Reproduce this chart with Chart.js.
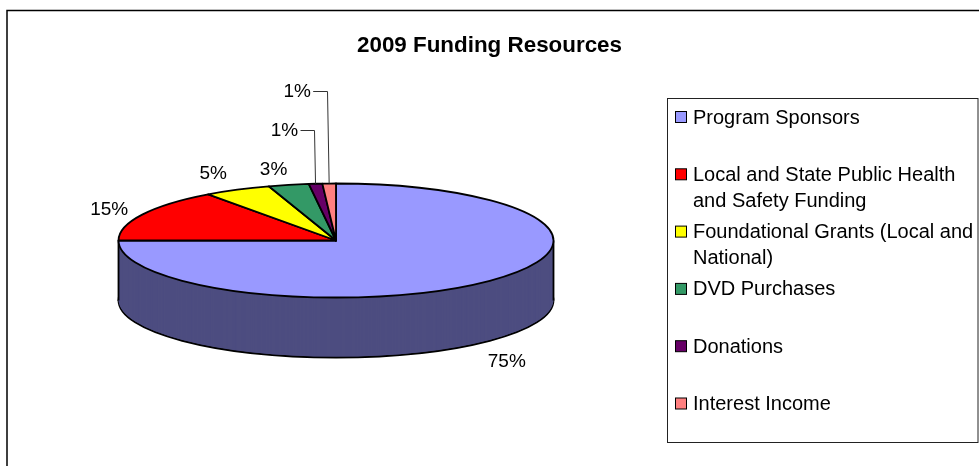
<!DOCTYPE html>
<html>
<head>
<meta charset="utf-8">
<style>
html,body{margin:0;padding:0;background:#fff;}
#wrap{position:relative;width:979px;height:466px;}
canvas{display:block;}
</style>
<script src="https://cdn.jsdelivr.net/npm/chart.js@4"></script>
</head>
<body>
<div id="wrap"><canvas id="c" width="979" height="466"></canvas></div>
<script>
const chartTitle = "2009 Funding Resources";
const categories = ["Program Sponsors","Local and State Public Health and Safety Funding","Foundational Grants (Local and National)","DVD Purchases","Donations","Interest Income"];
const legendLines = [["Program Sponsors"],["Local and State Public Health","and Safety Funding"],["Foundational Grants (Local and","National)"],["DVD Purchases"],["Donations"],["Interest Income"]];
const shares = [75,15,5,3,1,1];
const sliceColors = ["#9999FF","#FF0000","#FFFF00","#339966","#660066","#FF8080"];
const sideColors = ["#4D4D80","#800000","#808000","#1A4D33","#330033","#804040"];

const FONT = '"Liberation Sans", Arial, sans-serif';
const CX = 336, RADIUS = 217.5, SQUASH = 57/217.5, CY = 240.5, DEPTH = 60, PEN = 1.8;
// label offset from the slice's rim midpoint; elbow = leader bend for labels that have one
const labelPlace = [
  {dx:17,dy:20,side:true},{dx:-33,dy:-6},{dx:-24,dy:-17},{dx:-15,dy:-16},
  {dx:-31,dy:-54,elbow:-1.5},{dx:-32,dy:-93,elbow:-2}
];

const pie3d = {
  id:'pie3d',
  beforeDraw(chart){
    const c = chart.ctx;
    c.save();
    c.fillStyle='#fff'; c.fillRect(0,0,979,466);
    // outer frame
    c.strokeStyle='#000'; c.lineWidth=1.5;
    c.beginPath(); c.moveTo(7,466); c.lineTo(7,10.5); c.lineTo(979,10.5); c.stroke();
    // legend box
    c.strokeStyle='#222'; c.lineWidth=1;
    c.strokeRect(667.5,98.5,310.5,344);
    c.font='20px '+FONT; c.textBaseline='middle'; c.textAlign='left'; c.fillStyle='#000';
    legendLines.forEach((lines,i)=>{
      const y=117+57.3*i;
      c.fillStyle=sliceColors[i]; c.fillRect(675.5,y-5.5,11,11);
      c.strokeStyle='#000'; c.lineWidth=1; c.strokeRect(675.5,y-5.5,11,11);
      c.fillStyle='#000';
      lines.forEach((t,k)=>c.fillText(t,693,y+1+k*26));
    });
    c.restore();
  },
  beforeDatasetsDraw(chart){
    const c = chart.ctx, arcs = chart.getDatasetMeta(0).data;
    const ax = arcs[0].x, ay = arcs[0].y;
    c.save();
    // uniform pen width, whatever the squash
    const rawStroke = c.stroke;
    c.stroke = function(){ c.save(); c.setTransform(1,0,0,1,0,0); c.lineWidth=PEN; c.strokeStyle='#000'; c.lineJoin='round'; rawStroke.call(c); c.restore(); };
    const face = d => c.setTransform(1,0,0,SQUASH,CX-ax,CY+d-ay*SQUASH);
    for(let d=DEPTH;d>=1;d--){
      face(d);
      arcs.forEach((a,i)=>{
        const o=a.options;
        a.options=Object.assign(Object.create(o),{backgroundColor:sideColors[i],borderWidth:d===DEPTH?PEN:0,borderColor:'#000'});
        a.draw(c);
        a.options=o;
      });
    }
    c.setTransform(1,0,0,1,0,0);
    c.beginPath();
    c.moveTo(CX-RADIUS,CY); c.lineTo(CX-RADIUS,CY+DEPTH);
    c.moveTo(CX+RADIUS,CY); c.lineTo(CX+RADIUS,CY+DEPTH);
    c.stroke();
    face(0);
  },
  afterDatasetsDraw(chart){
    const c = chart.ctx;
    delete c.stroke;
    c.restore();
    const arcs = chart.getDatasetMeta(0).data;
    c.save();
    c.font='19px '+FONT; c.fillStyle='#000'; c.textAlign='center'; c.textBaseline='middle';
    arcs.forEach((a,i)=>{
      const mid=(a.startAngle+a.endAngle)/2, p=labelPlace[i];
      const rx=CX+RADIUS*Math.cos(mid), ry=CY+RADIUS*SQUASH*Math.sin(mid)+(p.side?DEPTH:0);
      const lx=rx+p.dx, ly=ry+p.dy;
      c.fillText(shares[i]+'%',lx,ly+1);
      if(p.elbow!==undefined){
        c.strokeStyle='#333'; c.lineWidth=1;
        c.beginPath(); c.moveTo(lx+16,Math.round(ly)+.5); c.lineTo(Math.round(rx+p.elbow)+.5,Math.round(ly)+.5); c.lineTo(rx,ry); c.stroke();
      }
    });
    c.restore();
  }
};

new Chart(document.getElementById('c'),{
  type:'pie',
  data:{labels:categories,datasets:[{data:shares,backgroundColor:sliceColors,borderColor:'#000',borderWidth:PEN,radius:RADIUS}]},
  options:{
    responsive:false,animation:false,
    plugins:{
      legend:{display:false},tooltip:{enabled:false},
      title:{display:true,text:chartTitle,color:'#000',fullSize:true,font:{family:FONT,size:22.4,weight:'bold'},padding:{top:32,bottom:10}}
    }
  },
  plugins:[pie3d]
});
</script>
</body>
</html>
